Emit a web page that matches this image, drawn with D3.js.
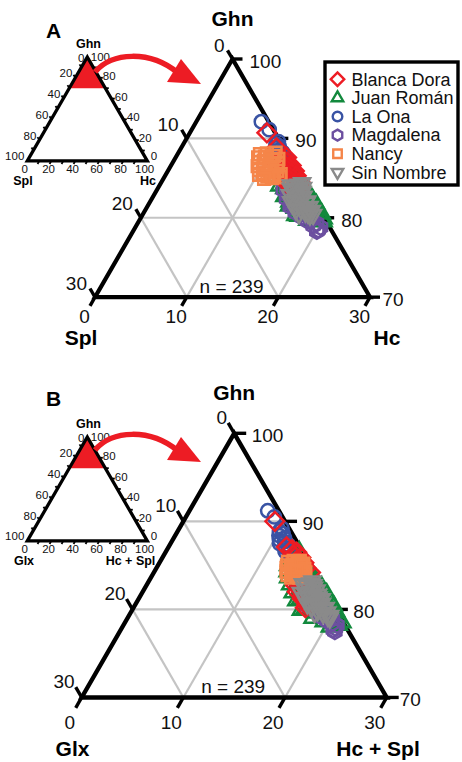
<!DOCTYPE html>
<html>
<head>
<meta charset="utf-8">
<script src="https://cdn.jsdelivr.net/npm/d3@7"></script>
<style>
  body { margin: 0; background: #fff; }
  svg { display: block; font-family: "Liberation Sans", Arial, Helvetica, sans-serif; }
</style>
</head>
<body>
<svg id="chart" width="462" height="762"></svg>
<script>
const mines = ['Blanca Dora', 'Juan Román', 'La Ona', 'Magdalena', 'Nancy', 'Sin Nombre'];
const mineColors = ['#ed1c24', '#12893d', '#3953a4', '#6c4fa0', '#f58549', '#8a8a8a'];
const mineShapes = ['diamond', 'triangle', 'circle', 'hexagon', 'square', 'triangleDown'];
const drawOrder = ['Juan Román', 'La Ona', 'Magdalena', 'Blanca Dora', 'Nancy', 'Sin Nombre'];
const mainTicks = [0, 10, 20, 30];
const gridSteps = [10, 20];
const insetLabels = [0, 20, 40, 60, 80, 100];
const insetTicks = [10, 20, 30, 40, 50, 60, 70, 80, 90];
const sampleCount = 239;

// panel A: [Ghn, Spl] (Ghn + Hc + Spl = 100)
const blancaDoraA = [[90.7, 0.9], [88.8, 0.8], [87.6, 0.3], [87.4, 0.8], [87.2, 1.3], [87.0, 0.5], [86.8, 1.0],
  [86.6, 0.3], [86.4, 1.5], [86.3, 0.7], [86.1, 1.1], [85.9, 0.3], [85.8, 1.7], [85.6, 0.8], [85.4, 1.3],
  [85.3, 0.4], [85.1, 1.9], [84.9, 0.9], [84.7, 1.4], [84.5, 0.4], [84.3, 1.1], [84.1, 1.8], [83.9, 0.6],
  [83.6, 1.2], [86.9, 1.9], [85.5, 2.2]];
const juanRomanA = [[86.3, 0.2], [86.0, 0.6], [85.8, 1.0], [85.6, 0.3], [85.3, 1.4], [85.1, 0.7], [84.9, 1.9],
  [84.7, 0.2], [84.5, 1.1], [84.3, 2.2], [84.1, 0.5], [83.9, 1.5], [83.7, 2.5], [83.5, 0.8], [83.3, 1.9],
  [83.1, 0.3], [82.9, 2.7], [82.8, 1.2], [82.6, 2.2], [82.4, 0.5], [82.2, 1.6], [82.0, 2.8], [81.8, 0.9],
  [81.6, 2.0], [81.4, 0.3], [81.2, 2.6], [81.0, 1.3], [80.8, 2.2], [80.6, 0.6], [80.4, 1.7], [80.2, 2.7],
  [80.0, 1.0], [79.8, 0.3], [79.7, 2.0], [79.6, 1.2], [85.4, 2.0], [84.0, 2.9], [82.7, 3.0], [81.5, 3.1],
  [80.3, 3.0], [83.2, 1.0], [81.9, 1.4], [80.7, 1.2], [84.8, 0.9], [86.1, 1.3],
  [83.0, 0.1], [82.3, 0.1], [81.7, 0.0], [81.1, 0.1], [80.5, 0.0], [79.9, 0.1], [79.5, 0.3]];
const laOnaA = [[92.1, 0.8], [91.1, 0.45], [89.6, 0.2], [89.3, 0.6], [89.0, 0.4], [88.8, 0.9], [88.6, 0.5],
  [88.4, 1.0], [88.2, 0.4], [87.9, 0.8], [87.7, 0.5], [87.3, 0.9], [87.1, 0.35], [86.7, 0.7]];
const magdalenaA = [[84.2, 1.5], [83.8, 2.2], [83.5, 2.7], [83.2, 1.9], [82.8, 2.5], [82.4, 2.9], [82.1, 2.0],
  [81.7, 2.7], [81.4, 3.0], [81.0, 2.2], [80.7, 2.8], [80.4, 1.9], [80.1, 2.4], [79.8, 1.5], [79.6, 2.0],
  [79.3, 1.2], [79.0, 1.7], [78.8, 1.0], [78.5, 1.4], [78.3, 1.65]];
const nancyA = [[88.2, 1.2], [88.1, 2.2], [88.0, 3.0], [87.8, 1.6], [87.7, 2.6], [87.6, 3.4], [87.4, 1.3],
  [87.3, 2.0], [87.2, 3.0], [87.0, 3.7], [86.9, 1.6], [86.8, 2.5], [86.6, 3.3], [86.5, 4.0], [86.4, 1.9],
  [86.2, 2.8], [86.1, 3.6], [86.0, 4.1], [85.9, 2.2], [85.7, 3.1], [85.6, 3.9], [85.5, 2.0], [85.4, 4.4],
  [85.3, 2.8], [85.2, 3.6], [85.1, 2.3], [85.0, 3.2], [84.9, 4.1]];
const sinNombreA = [[84.4, 0.2], [84.2, 0.7], [84.0, 1.2], [83.8, 0.4], [83.6, 0.9], [83.4, 1.5], [83.2, 0.8],
  [83.0, 1.1], [82.8, 1.8], [82.7, 0.9], [82.5, 1.3], [82.3, 2.0], [82.1, 0.8], [81.9, 1.0], [81.8, 1.7],
  [81.6, 2.3], [81.4, 0.9], [81.3, 1.3], [81.1, 2.0], [80.9, 0.9], [80.8, 1.2], [80.7, 1.7], [80.5, 2.5],
  [80.4, 1.0], [80.3, 1.4], [83.7, 1.8], [82.9, 2.3], [82.0, 2.6], [81.0, 2.6], [84.1, 1.6], [80.6, 1.5], [83.3, 0.7]];

// panel B: [Ghn, Glx] (Ghn + Glx + Hc + Spl = 100)
const blancaDoraB = [[90.0, 1.0], [87.1, 1.3], [86.5, 0.6], [86.2, 1.1], [85.9, 0.5], [85.6, 1.0], [85.3, 0.5],
  [85.0, 1.3], [84.7, 0.6], [84.4, 1.1], [84.0, 1.7], [83.7, 2.2], [83.3, 2.4], [83.0, 1.9], [82.7, 2.6],
  [82.3, 2.3], [82.0, 2.8], [81.6, 2.4], [81.2, 2.7], [80.9, 2.3], [80.5, 2.6], [80.2, 2.9], [86.8, 0.9], [84.2, 0.4]];
const juanRomanB = [[86.6, 0.3], [86.3, 0.8], [86.0, 1.3], [85.8, 0.4], [85.5, 1.8], [85.3, 0.9], [85.0, 2.2],
  [84.8, 0.3], [84.6, 1.4], [84.3, 2.6], [84.1, 0.7], [83.9, 1.9], [83.6, 2.9], [83.4, 1.0], [83.2, 0.3],
  [83.0, 2.3], [82.8, 3.1], [82.5, 1.4], [82.3, 0.5], [82.1, 2.6], [81.9, 3.3], [81.6, 1.7], [81.4, 0.7],
  [81.2, 2.9], [81.0, 3.4], [80.7, 2.0], [80.5, 0.4], [80.3, 1.2], [80.1, 3.0], [79.9, 3.5], [79.6, 2.2],
  [79.4, 0.9], [79.2, 1.6], [79.0, 2.8], [78.8, 0.5], [78.6, 1.9], [78.4, 1.1], [78.2, 0.6], [78.0, 1.6],
  [84.5, 0.5], [82.7, 2.0], [80.9, 1.0], [79.7, 0.4], [85.6, 1.2], [83.8, 1.3],
  [82.6, 0.1], [81.8, 0.0], [81.1, 0.1], [80.4, 0.0], [79.8, 0.1], [79.1, 0.2], [78.5, 0.1]];
const laOnaB = [[91.2, 1.1], [90.5, 0.8], [89.2, 0.7], [88.9, 1.1], [88.6, 0.9], [88.4, 1.4], [88.1, 1.0],
  [87.9, 1.6], [87.7, 1.2], [87.5, 1.8], [87.3, 1.0], [87.0, 1.5], [86.8, 1.2], [86.6, 1.7]];
const magdalenaB = [[82.5, 1.4], [82.1, 1.8], [81.7, 2.1], [81.4, 1.5], [81.0, 2.3], [80.7, 1.8], [80.4, 2.6],
  [80.1, 1.5], [79.8, 2.1], [79.5, 1.3], [79.2, 1.9], [78.9, 0.9], [78.7, 1.5], [78.4, 1.2], [78.2, 0.8],
  [77.9, 1.1], [77.7, 1.4], [77.5, 1.35]];
const nancyB = [[85.5, 1.4], [85.5, 0.8], [85.4, 2.0], [85.3, 1.1], [85.2, 0.6], [85.1, 1.7], [85.0, 2.3],
  [84.9, 1.0], [84.8, 1.5], [84.7, 2.5], [84.6, 0.8], [84.5, 1.9], [84.4, 1.2], [84.3, 2.7], [84.2, 0.9],
  [84.1, 2.2], [84.0, 1.5], [83.9, 2.8], [83.9, 1.1], [83.8, 2.0], [83.7, 1.4], [83.6, 2.6], [83.6, 1.8],
  [84.8, 2.0], [85.0, 0.9], [84.3, 1.7]];
const sinNombreB = [[83.2, 0.7], [83.0, 1.0], [82.8, 0.8], [82.7, 1.5], [82.5, 0.9], [82.3, 1.9], [82.2, 0.8],
  [82.0, 1.3], [81.8, 2.1], [81.7, 0.9], [81.5, 1.6], [81.3, 2.4], [81.2, 0.8], [81.0, 1.1], [80.8, 1.9],
  [80.7, 1.0], [80.5, 1.4], [80.3, 2.2], [80.2, 0.9], [80.0, 1.2], [79.8, 1.9], [79.7, 1.0], [79.5, 1.5],
  [79.3, 0.9], [79.2, 1.2], [79.0, 1.1], [82.9, 1.8], [81.9, 2.5], [80.6, 2.5], [79.6, 2.3], [81.4, 1.0], [80.1, 1.6]];

const panels = [
  {
    letter: 'A', leftName: 'Spl', rightName: 'Hc',
    apexX: 232.5, apexY: 59, side: 275, edgeW: 4.2, tickLen: 10,
    leftLbl: [-8, -7.5], bottomLbl: [-10.5, 26], rightLbl: [17, 9],
    leftTitle: [81, 345], rightTitle: [387, 345], nY: 293,
    insetY: 57, insetNames: [23, 148], shift: 0,
    series: [blancaDoraA, juanRomanA, laOnaA, magdalenaA, nancyA, sinNombreA]
  },
  {
    letter: 'B', leftName: 'Glx', rightName: 'Hc + Spl',
    apexX: 234.2, apexY: 433.3, side: 305, edgeW: 4.4, tickLen: 12,
    leftLbl: [-7, -9.5], bottomLbl: [-12, 31.5], rightLbl: [17.5, 8.5],
    leftTitle: [72.5, 756], rightTitle: [378, 756], nY: 693,
    insetY: 437, insetNames: [24, 130.5], shift: 378,
    series: [blancaDoraB, juanRomanB, laOnaB, magdalenaB, nancyB, sinNombreB]
  }
];

const svg = d3.select('#chart');
const red = '#ed1c24';
const up = [-0.5, -Math.sqrt(3) / 2];
const down = [-0.5, Math.sqrt(3) / 2];
const right = [1, 0];

const hexagon = r => d3.line().curve(d3.curveLinearClosed)(
  d3.range(6).map(i => [r * Math.sin(i * Math.PI / 3), -r * Math.cos(i * Math.PI / 3)]));

function marker(shape, k) {
  switch (shape) {
    case 'circle': return { d: d3.symbol(d3.symbolCircle, 140 * k * k)(), rot: 0 };
    case 'diamond': return { d: d3.symbol(d3.symbolSquare, 175 * k * k)(), rot: 45 };
    case 'square': return { d: d3.symbol(d3.symbolSquare, 140 * k * k)(), rot: 0 };
    case 'triangle': return { d: d3.symbol(d3.symbolTriangle, 110 * k * k)(), rot: 0 };
    case 'triangleDown': return { d: d3.symbol(d3.symbolTriangle, 110 * k * k)(), rot: 180 };
    default: return { d: hexagon(7.6 * k), rot: 0 };
  }
}

function drawInset(p) {
  const g = svg.append('g');
  const side = 120, cx = 87.3;
  const h = side * Math.sqrt(3) / 2;
  const y = d3.scaleLinear().domain([0, 100]).range([p.insetY + h, p.insetY]);
  const x = d3.scaleLinear().domain([-100, 100]).range([cx - side / 2, cx + side / 2]);
  const pt = (ghn, left) => [x(100 - ghn - 2 * left), y(ghn)];

  g.append('path')
    .attr('d', d3.line()([pt(100, 0), pt(70, 30), pt(70, 0)]) + 'Z')
    .attr('fill', red);

  const ticks = [];
  insetTicks.forEach(v => {
    ticks.push({ p: pt(100 - v, v), d: up });
    ticks.push({ p: pt(0, 100 - v), d: down });
    ticks.push({ p: pt(v, 0), d: right });
  });
  g.selectAll('line.itick').data(ticks).join('line')
    .attr('x1', d => d.p[0]).attr('y1', d => d.p[1])
    .attr('x2', d => d.p[0] + d.d[0] * 3.5).attr('y2', d => d.p[1] + d.d[1] * 3.5)
    .attr('stroke', '#000').attr('stroke-width', 1.8);

  g.append('path')
    .attr('d', d3.line()([pt(100, 0), pt(0, 100), pt(0, 0)]) + 'Z')
    .attr('fill', 'none').attr('stroke', '#000').attr('stroke-width', 3.3)
    .attr('stroke-linejoin', 'miter');

  const lbl = g.append('g').attr('font-size', 11.5).attr('fill', '#111');
  insetLabels.forEach(v => {
    const a = pt(100 - v, v);
    lbl.append('text').attr('x', a[0] - 3).attr('y', a[1] + (v === 0 ? 4.5 : -0.5))
      .attr('text-anchor', 'end').text(v);
    const b = pt(0, 100 - v);
    lbl.append('text').attr('x', b[0] - 2.7).attr('y', b[1] + 12).attr('text-anchor', 'middle').text(v);
    const c = pt(v, 0);
    lbl.append('text').attr('x', c[0] + 3.5).attr('y', c[1] + (v === 0 ? -0.5 : v === 100 ? 4 : 2))
      .attr('text-anchor', 'start').text(v);
  });

  const t = g.append('g').attr('font-size', 12.5).attr('font-weight', 'bold').attr('text-anchor', 'middle');
  t.append('text').attr('x', 88.5).attr('y', p.insetY - 9).text('Ghn');
  t.append('text').attr('x', p.insetNames[0]).attr('y', p.insetY + 128).text(p.leftName);
  t.append('text').attr('x', p.insetNames[1]).attr('y', p.insetY + 128).text(p.rightName);

  // red arrow to the zoomed plot
  const arrow = g.append('g').attr('transform', `translate(0,${p.shift})`);
  arrow.append('path')
    .attr('d', 'M95,72 C112,52 150,50 178,73')
    .attr('fill', 'none').attr('stroke', red).attr('stroke-width', 5.5);
  arrow.append('path')
    .attr('d', d3.line()([[181, 59], [201, 84], [167, 82]]) + 'Z')
    .attr('fill', red);
}

function drawPanel(p) {
  const g = svg.append('g');
  const h = p.side * Math.sqrt(3) / 2;
  const baseY = p.apexY + h;
  const y = d3.scaleLinear().domain([70, 100]).range([baseY, p.apexY]);
  const x = d3.scaleLinear().domain([-30, 30]).range([p.apexX - p.side / 2, p.apexX + p.side / 2]);
  const pt = (ghn, left) => [x(100 - ghn - 2 * left), y(ghn)];

  // grey grid
  const grid = [];
  gridSteps.forEach(s => {
    grid.push([pt(70 + s, 30 - s), pt(70 + s, 0)]);
    grid.push([pt(70, 30 - s), pt(100 - s, 0)]);
    grid.push([pt(70, s), pt(100 - s, s)]);
  });
  g.selectAll('line.grid').data(grid).join('line')
    .attr('x1', d => d[0][0]).attr('y1', d => d[0][1])
    .attr('x2', d => d[1][0]).attr('y2', d => d[1][1])
    .attr('stroke', '#c4c4c4').attr('stroke-width', 2.2);

  g.append('text').attr('x', p.apexX - 1).attr('y', p.nY)
    .attr('text-anchor', 'middle').attr('font-size', 19).attr('fill', '#111')
    .text(`n = ${sampleCount}`);

  // ticks
  const ticks = [];
  mainTicks.forEach(v => {
    ticks.push({ p: pt(100 - v, v), d: up });
    ticks.push({ p: pt(70, 30 - v), d: down });
    ticks.push({ p: pt(100 - v, 0), d: right });
  });
  g.selectAll('line.tick').data(ticks).join('line')
    .attr('x1', d => d.p[0]).attr('y1', d => d.p[1])
    .attr('x2', d => d.p[0] + d.d[0] * p.tickLen).attr('y2', d => d.p[1] + d.d[1] * p.tickLen)
    .attr('stroke', '#000').attr('stroke-width', 3.4);

  g.append('path')
    .attr('d', d3.line()([pt(100, 0), pt(70, 30), pt(70, 0)]) + 'Z')
    .attr('fill', 'none').attr('stroke', '#000').attr('stroke-width', p.edgeW)
    .attr('stroke-linejoin', 'miter');

  const lbl = g.append('g').attr('font-size', 19).attr('fill', '#111');
  mainTicks.forEach(v => {
    const a = pt(100 - v, v);
    lbl.append('text').attr('x', a[0] + p.leftLbl[0]).attr('y', a[1] + p.leftLbl[1])
      .attr('text-anchor', 'end').text(v);
    const b = pt(70, 30 - v);
    lbl.append('text').attr('x', b[0] + p.bottomLbl[0]).attr('y', b[1] + p.bottomLbl[1])
      .attr('text-anchor', 'middle').text(v);
    const c = pt(100 - v, 0);
    lbl.append('text').attr('x', c[0] + p.rightLbl[0] - (v === 30 ? 4.5 : 0)).attr('y', c[1] + p.rightLbl[1])
      .attr('text-anchor', 'start').text(100 - v);
  });

  const t = g.append('g').attr('font-size', 21).attr('font-weight', 'bold').attr('text-anchor', 'middle');
  t.append('text').attr('x', p.apexX).attr('y', p.apexY - 33).text('Ghn');
  t.append('text').attr('x', p.leftTitle[0]).attr('y', p.leftTitle[1]).text(p.leftName);
  t.append('text').attr('x', p.rightTitle[0]).attr('y', p.rightTitle[1]).text(p.rightName);

  svg.append('text').attr('x', 46).attr('y', p.letter === 'A' ? 38 : 406)
    .attr('font-size', 21).attr('font-weight', 'bold').text(p.letter);

  // samples
  drawOrder.forEach(name => {
    const i = mines.indexOf(name);
    const m = marker(mineShapes[i], 1);
    g.append('g').selectAll('path').data(p.series[i]).join('path')
      .attr('d', m.d)
      .attr('transform', d => {
        const q = pt(d[0], d[1]);
        return `translate(${q[0]},${q[1]}) rotate(${m.rot})`;
      })
      .attr('fill', 'none').attr('stroke', mineColors[i]).attr('stroke-width', 2.5);
  });
}

panels.forEach(p => { drawInset(p); drawPanel(p); });

// legend
const legend = svg.append('g');
legend.append('rect').attr('x', 325).attr('y', 62).attr('width', 133).attr('height', 123)
  .attr('fill', '#fff').attr('stroke', '#000').attr('stroke-width', 3.4);
mines.forEach((name, i) => {
  const cy = 79.3 + i * 18.6;
  const m = marker(mineShapes[i], 0.72);
  legend.append('path').attr('d', m.d)
    .attr('transform', `translate(337.5,${cy}) rotate(${m.rot})`)
    .attr('fill', 'none').attr('stroke', mineColors[i]).attr('stroke-width', 2.4);
  legend.append('text').attr('x', 351.5).attr('y', cy + 6.3)
    .attr('font-size', 18).attr('fill', '#111').text(name);
});
</script>
</body>
</html>
